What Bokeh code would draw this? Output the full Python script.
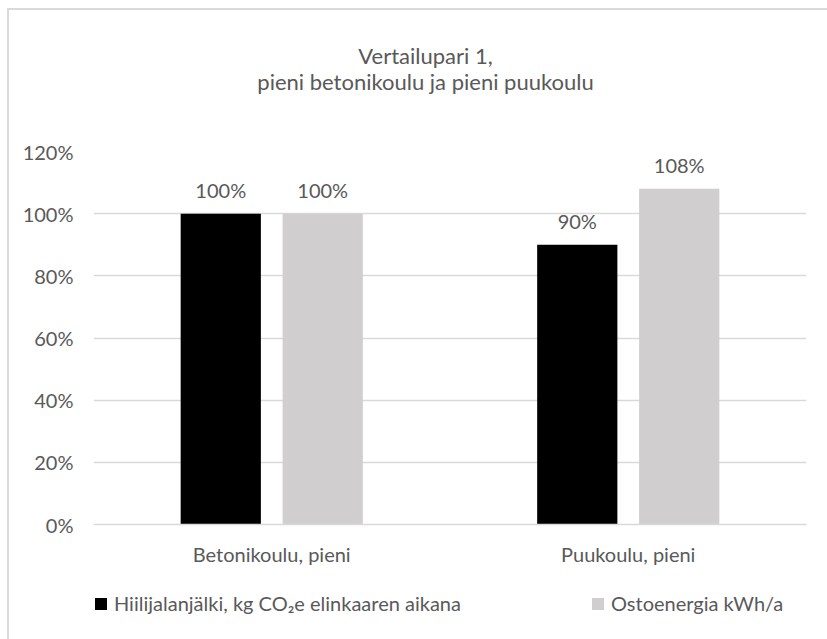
from bokeh.plotting import figure
from bokeh.layouts import column
from bokeh.models import (ColumnDataSource, FactorRange, Range1d, NumeralTickFormatter,
                          FixedTicker, LabelSet, Label, Legend, LegendItem)
from bokeh.core.properties import value
from bokeh.transform import dodge
from bokeh.embed import file_html
from bokeh.resources import INLINE

# Data
categories = ["Betonikoulu, pieni", "Puukoulu, pieni"]
hiilijalanjalki = [1.00, 0.90]
ostoenergia = [1.00, 1.08]
series_names = ["Hiilijalanjälki, kg CO₂e elinkaaren aikana", "Ostoenergia kWh/a"]
y_ticks = [0, 0.2, 0.4, 0.6, 0.8, 1.0, 1.2]
title_lines = ["Vertailupari 1,", "pieni betonikoulu ja pieni puukoulu"]

FONT = "Lato"
FS = "20px"
TEXT = "#595959"
GRID = "#D9D9D9"
BLACK = "#000000"
GREY = "#D0CECE"
W = 818


def blank_strip(height):
    """A figure without axes or grid, used for text around the chart."""
    f = figure(width=W, height=height, x_range=Range1d(0, 1), y_range=Range1d(0, 1),
               x_axis_type=None, y_axis_type=None, output_backend="svg",
               toolbar_location=None, min_border=0)
    f.outline_line_color = None
    f.grid.grid_line_color = None
    f.background_fill_color = "white"
    f.border_fill_color = "white"
    return f


# Title strip
head = blank_strip(121)
for line, y in zip(title_lines, (76, 50)):
    head.add_layout(Label(x=332, y=y, x_units="screen", y_units="screen", text=line,
                          text_align="center", text_baseline="alphabetic", text_font=FONT,
                          text_font_size="22px", text_color=TEXT))

# Main chart
src = ColumnDataSource(dict(
    cat=categories,
    a=hiilijalanjalki,
    b=ostoenergia,
    a_lbl=[f"{v*100:.0f}%" for v in hiilijalanjalki],
    b_lbl=[f"{v*100:.0f}%" for v in ostoenergia],
))

p = figure(width=W, height=449, x_range=FactorRange(*categories, range_padding=0),
           y_range=Range1d(0, 1.2), output_backend="svg", toolbar_location=None,
           min_border_left=84, min_border_right=21, min_border_top=20, min_border_bottom=56)
p.outline_line_color = None
p.background_fill_color = "white"
p.border_fill_color = "white"

bw = 0.225
off = 0.143
p.vbar(x=dodge("cat", -off, range=p.x_range), top="a", width=bw, source=src,
       fill_color=BLACK, line_color=None)
p.vbar(x=dodge("cat", off, range=p.x_range), top="b", width=bw, source=src,
       fill_color=GREY, line_color=None)

# Value labels above the bars
for col, lbl, o in (("a", "a_lbl", -off), ("b", "b_lbl", off)):
    p.add_layout(LabelSet(x=dodge("cat", o, range=p.x_range), y=col, text=lbl, source=src,
                          text_align="center", text_baseline="middle", y_offset=24,
                          text_font=value(FONT), text_font_size=FS, text_color=TEXT))

p.yaxis.ticker = FixedTicker(ticks=y_ticks)
p.yaxis.formatter = NumeralTickFormatter(format="0%")
p.yaxis.axis_line_color = None
p.yaxis.major_tick_line_color = None
p.yaxis.minor_tick_line_color = None
p.yaxis.major_tick_out = 0
p.yaxis.major_tick_in = 0
p.yaxis.major_label_text_font = FONT
p.yaxis.major_label_text_font_size = FS
p.yaxis.major_label_text_color = TEXT
p.yaxis.major_label_standoff = 20

p.xaxis.axis_line_color = GRID
p.xaxis.axis_line_width = 1.5
p.xaxis.major_tick_line_color = None
p.xaxis.minor_tick_line_color = None
p.xaxis.major_tick_out = 0
p.xaxis.major_tick_in = 0
p.xaxis.major_label_text_font = FONT
p.xaxis.major_label_text_font_size = FS
p.xaxis.major_label_text_color = TEXT
p.xaxis.major_label_standoff = 17

p.xgrid.grid_line_color = None
p.ygrid.grid_line_color = GRID
p.ygrid.grid_line_width = 1.5

# Legend strip: zero-height swatch renderers only feed the legend entries
lg = blank_strip(59)
swatch = ColumnDataSource(dict(x=[0.5], top=[0.0]))
s1 = lg.vbar(x="x", top="top", bottom=0.0, width=0.1, source=swatch,
             fill_color=BLACK, line_color=None)
s2 = lg.vbar(x="x", top="top", bottom=0.0, width=0.1, source=swatch,
             fill_color=GREY, line_color=None)
for r, name, x in ((s1, series_names[0], 0), (s2, series_names[1], 497)):
    lg.add_layout(Legend(items=[LegendItem(label=name, renderers=[r])], location=(x, 24),
                         glyph_width=15, glyph_height=15, label_standoff=6, padding=0,
                         margin=0, border_line_color=None, background_fill_alpha=0,
                         label_text_font=FONT, label_text_font_size=FS,
                         label_text_color=TEXT), "center")

page = column(head, p, lg, spacing=0)
page.margin = (8, 0, 0, 7)
page.styles = {"border-left": f"2px solid {GRID}", "border-top": f"2px solid {GRID}"}

open("out.html", "w").write(file_html(page, INLINE))
